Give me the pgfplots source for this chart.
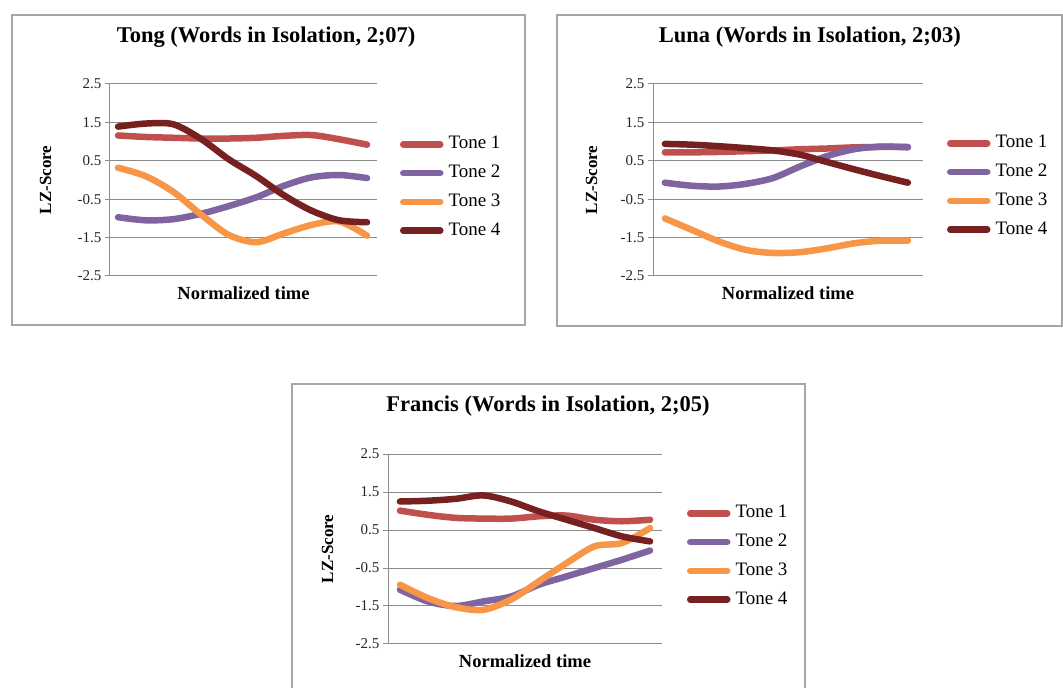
\documentclass[border=0pt]{standalone}
\usepackage{fontspec}
\setmainfont{Liberation Serif}
\usepackage{pgfplots}
\pgfplotsset{compat=1.18}
\definecolor{tA}{HTML}{C0504D}
\definecolor{tB}{HTML}{8064A2}
\definecolor{tC}{HTML}{F79646}
\definecolor{tD}{HTML}{772020}
\definecolor{gridc}{HTML}{8C8C8C}
\definecolor{boxc}{HTML}{A6A6A6}

\pgfplotsset{
  panel/.style={
    scale only axis,
    ymin=-2.5, ymax=2.5,
    axis lines*=left,
    axis line style={draw=gridc, line width=1pt},
    xtick=\empty,
    ytick={-2.5,-1.5,-0.5,0.5,1.5,2.5},
    yticklabels={-2.5,-1.5,-0.5,0.5,1.5,2.5},
    tick align=outside,
    major tick length=5pt,
    ytick style={draw=gridc, line width=1pt},
    ymajorgrids,
    grid style={draw=gridc, line width=1pt},
    yticklabel style={font=\fontsize{15}{17}\selectfont, color=black!85},
    title style={font=\fontsize{22.5}{26}\selectfont\bfseries, anchor=center},
    xlabel style={font=\fontsize{18.5}{22}\selectfont\bfseries, at={(axis description cs:0.5,0)}, anchor=center, yshift=-17pt},
    ylabel style={font=\fontsize{17}{20}\selectfont\bfseries, anchor=center},
    every axis plot/.append style={smooth, line width=6.5pt, line cap=round, line join=round, no markers},
    legend image code/.code={\draw[#1, line width=6.5pt, line cap=round] (3pt,0pt) -- (40pt,0pt);},
    legend style={at={(axis description cs:1,0.5)}, anchor=west, draw=none, fill=none, inner sep=0pt, outer sep=0pt,
      font=\fontsize{19}{22}\selectfont, row sep=11.7pt,
      nodes={inner sep=0pt, text height=13pt, text depth=4pt},
      /tikz/every odd column/.append style={column sep=5pt}},
    legend cell align=left,
    xlabel={Normalized time},
    ylabel={LZ-Score},
  }
}

\begin{document}
\begin{tikzpicture}[x=1pt,y=1pt]
\useasboundingbox (0pt,0pt) rectangle (1063pt,688pt);
% panel frames
\draw[boxc, line width=1.5pt] (12pt,673pt) rectangle (525pt,363pt);
\draw[boxc, line width=1.5pt] (557pt,673pt) rectangle (1062pt,362pt);
\draw[boxc, line width=1.5pt] (292pt,-5pt) -- (292pt,304pt) -- (805pt,304pt) -- (805pt,-5pt);

% Tong
\begin{axis}[panel, at={(110pt,412pt)}, anchor=south west, width=267pt, height=192pt,
  xmin=-0.29, xmax=9.36,
  title={Tong (Words in Isolation, 2;07)},
  title style={at={(axis description cs:0.585,1.2135)}},
  ylabel style={at={([xshift=-64.5pt]axis description cs:0,0.5)}},
  legend style={xshift=23pt, yshift=-7.5pt}]
\addplot[tA] coordinates {(0,1.16)(1,1.12)(2,1.10)(3,1.08)(4,1.08)(5,1.10)(6,1.15)(7,1.17)(8,1.06)(9,0.92)};
\addplot[tB] coordinates {(0,-0.97)(1,-1.05)(2,-1.02)(3,-0.88)(4,-0.68)(5,-0.45)(6,-0.15)(7,0.07)(8,0.13)(9,0.05)};
\addplot[tC] coordinates {(0,0.32)(1,0.10)(2,-0.31)(3,-0.90)(4,-1.43)(5,-1.62)(6,-1.39)(7,-1.17)(8,-1.08)(9,-1.45)};
\addplot[tD] coordinates {(0,1.39)(1,1.47)(2,1.45)(3,1.07)(4,0.54)(5,0.10)(6,-0.40)(7,-0.80)(8,-1.05)(9,-1.10)};
\legend{Tone 1,Tone 2,Tone 3,Tone 4}
\end{axis}

% Luna
\begin{axis}[panel, at={(653pt,412pt)}, anchor=south west, width=270pt, height=192pt,
  xmin=-0.44, xmax=9.56,
  title={Luna (Words in Isolation, 2;03)},
  title style={at={(axis description cs:0.581,1.2135)}},
  ylabel style={at={([xshift=-61.5pt]axis description cs:0,0.5)}},
  legend style={xshift=24pt, yshift=-6.5pt}]
\addplot[tA] coordinates {(0,0.72)(1,0.72)(2,0.73)(3,0.75)(4,0.77)(5,0.80)(6,0.82)(7,0.85)(8,0.86)(9,0.86)};
\addplot[tB] coordinates {(0,-0.07)(1,-0.15)(2,-0.17)(3,-0.10)(4,0.05)(5,0.35)(6,0.62)(7,0.80)(8,0.87)(9,0.85)};
\addplot[tC] coordinates {(0,-1.00)(1,-1.30)(2,-1.60)(3,-1.82)(4,-1.90)(5,-1.88)(6,-1.78)(7,-1.65)(8,-1.58)(9,-1.58)};
\addplot[tD] coordinates {(0,0.94)(1,0.92)(2,0.88)(3,0.83)(4,0.77)(5,0.66)(6,0.47)(7,0.28)(8,0.10)(9,-0.07)};
\legend{Tone 1,Tone 2,Tone 3,Tone 4}
\end{axis}

% Francis
\begin{axis}[panel, at={(388pt,44pt)}, anchor=south west, width=274pt, height=190pt,
  xmin=-0.43, xmax=9.43,
  title={Francis (Words in Isolation, 2;05)},
  title style={at={(axis description cs:0.584,1.221)}},
  ylabel style={at={([xshift=-60.5pt]axis description cs:0,0.5)}},
  legend style={xshift=25pt, yshift=-7.5pt}]
\addplot[tA] coordinates {(0,1.01)(1,0.90)(2,0.82)(3,0.80)(4,0.80)(5,0.86)(6,0.88)(7,0.77)(8,0.73)(9,0.77)};
\addplot[tB] coordinates {(0,-1.07)(1,-1.38)(2,-1.50)(3,-1.38)(4,-1.25)(5,-0.94)(6,-0.72)(7,-0.50)(8,-0.28)(9,-0.04)};
\addplot[tC] coordinates {(0,-0.94)(1,-1.29)(2,-1.53)(3,-1.60)(4,-1.33)(5,-0.85)(6,-0.37)(7,0.07)(8,0.16)(9,0.55)};
\addplot[tD] coordinates {(0,1.25)(1,1.27)(2,1.32)(3,1.41)(4,1.25)(5,0.99)(6,0.77)(7,0.55)(8,0.33)(9,0.20)};
\legend{Tone 1,Tone 2,Tone 3,Tone 4}
\end{axis}
\end{tikzpicture}
\end{document}
